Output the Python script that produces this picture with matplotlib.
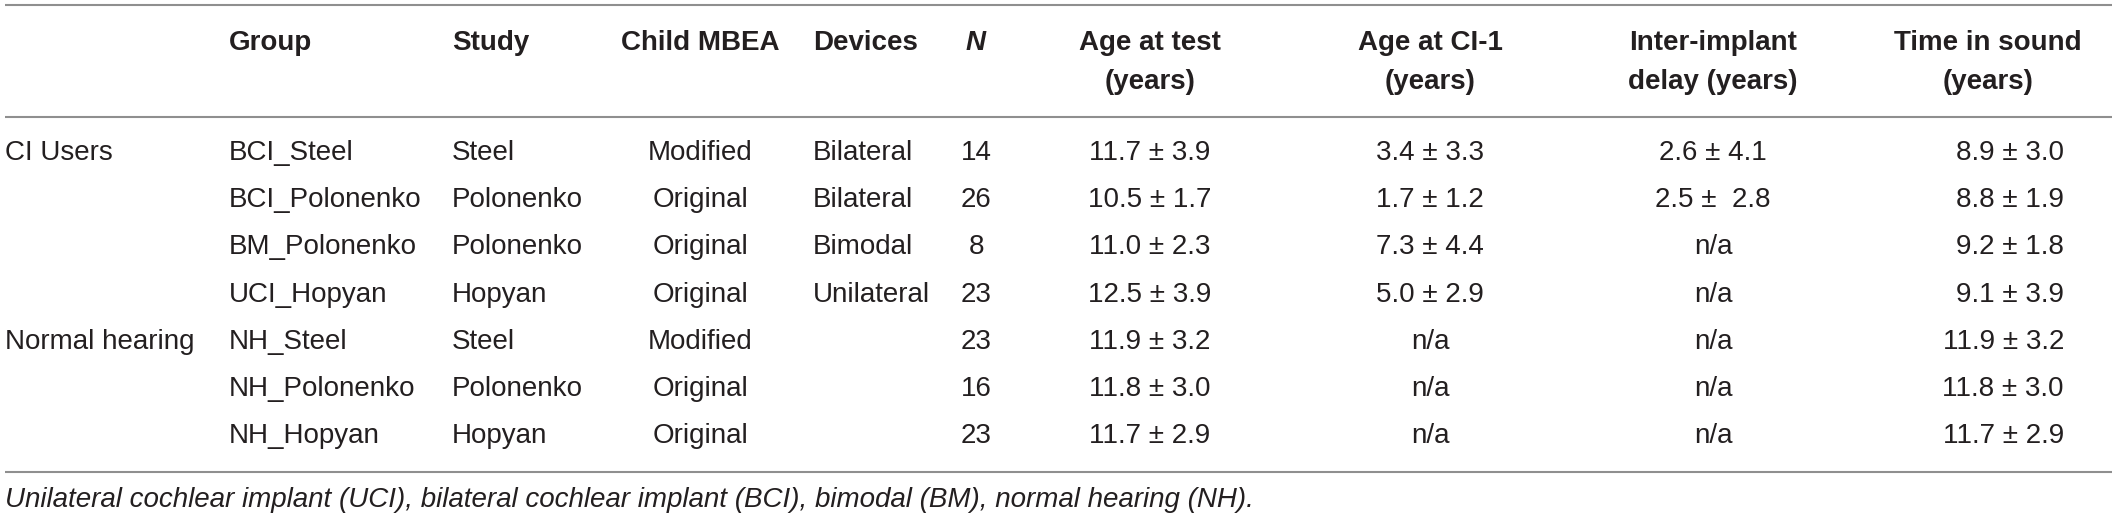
import matplotlib
matplotlib.use("Agg")
import matplotlib.pyplot as plt

plt.rcParams['font.family'] = ['Liberation Sans', 'DejaVu Sans']

# Contenu du tableau
group_labels = ["CI Users", "", "", "", "Normal hearing", "", ""]
subgroups = ["BCI_Steel", "BCI_Polonenko", "BM_Polonenko", "UCI_Hopyan",
             "NH_Steel", "NH_Polonenko", "NH_Hopyan"]
studies = ["Steel", "Polonenko", "Polonenko", "Hopyan", "Steel", "Polonenko", "Hopyan"]
mbea = ["Modified", "Original", "Original", "Original", "Modified", "Original", "Original"]
devices = ["Bilateral", "Bilateral", "Bimodal", "Unilateral", "", "", ""]
n_vals = ["14", "26", "8", "23", "23", "16", "23"]
age_test = ["11.7 ± 3.9", "10.5 ± 1.7", "11.0 ± 2.3", "12.5 ± 3.9",
            "11.9 ± 3.2", "11.8 ± 3.0", "11.7 ± 2.9"]
age_ci = ["3.4 ± 3.3", "1.7 ± 1.2", "7.3 ± 4.4", "5.0 ± 2.9", "n/a", "n/a", "n/a"]
delay = ["2.6 ± 4.1", "2.5 ±  2.8", "n/a", "n/a", "n/a", "n/a", "n/a"]
time_sound = ["8.9 ± 3.0", "8.8 ± 1.9", "9.2 ± 1.8", "9.1 ± 3.9",
              "11.9 ± 3.2", "11.8 ± 3.0", "11.7 ± 2.9"]
headers_1 = ["", "Group", "Study", "Child MBEA", "Devices", "N",
             "Age at test", "Age at CI-1", "Inter-implant", "Time in sound"]
headers_2 = ["", "", "", "", "", "", "(years)", "(years)", "delay (years)", "(years)"]
footnote = ("Unilateral cochlear implant (UCI), bilateral cochlear implant (BCI), "
            "bimodal (BM), normal hearing (NH).")

columns = [group_labels, subgroups, studies, mbea, devices, n_vals,
           age_test, age_ci, delay, time_sound]

# Mise en page (pixels)
W, H = 2117, 520
col_x = [5, 229, 452, 700, 813, 976, 1150, 1430, 1713, 2064]
col_ha = ["left", "left", "left", "center", "left", "center",
          "center", "center", "center", "right"]
head_x = [5, 229, 452, 700, 813, 976, 1150, 1430, 1713, 1988]
head_ha = ["left", "left", "left", "center", "left", "center",
           "center", "center", "center", "center"]
row_y = [153, 200, 247, 295, 342, 389, 436]
txt = "#231f20"
fs = 20

fig = plt.figure(figsize=(W / 100, H / 100), dpi=100)
ax = fig.add_axes([0, 0, 1, 1])
ax.set_xlim(0, W)
ax.set_ylim(H, 0)
ax.axis("off")

for y in (5, 117, 472):
    ax.plot([5, 2112], [y, y], color="#8f8f8f", lw=1.5, solid_capstyle="butt")

for i in range(len(headers_1)):
    style = "italic" if headers_1[i] == "N" else "normal"
    ax.text(head_x[i], 43, headers_1[i], ha=head_ha[i], va="center",
            fontsize=fs, fontweight="bold", fontstyle=style, color=txt)
    if headers_2[i]:
        ax.text(head_x[i], 82, headers_2[i], ha=head_ha[i], va="center",
                fontsize=fs, fontweight="bold", color=txt)

for j, col in enumerate(columns):
    for i, val in enumerate(col):
        ax.text(col_x[j], row_y[i], val, ha=col_ha[j], va="center",
                fontsize=fs, color=txt)

ax.text(5, 500, footnote, ha="left", va="center", fontsize=fs,
        fontstyle="italic", color=txt)

fig.savefig("out.png", dpi=100)
